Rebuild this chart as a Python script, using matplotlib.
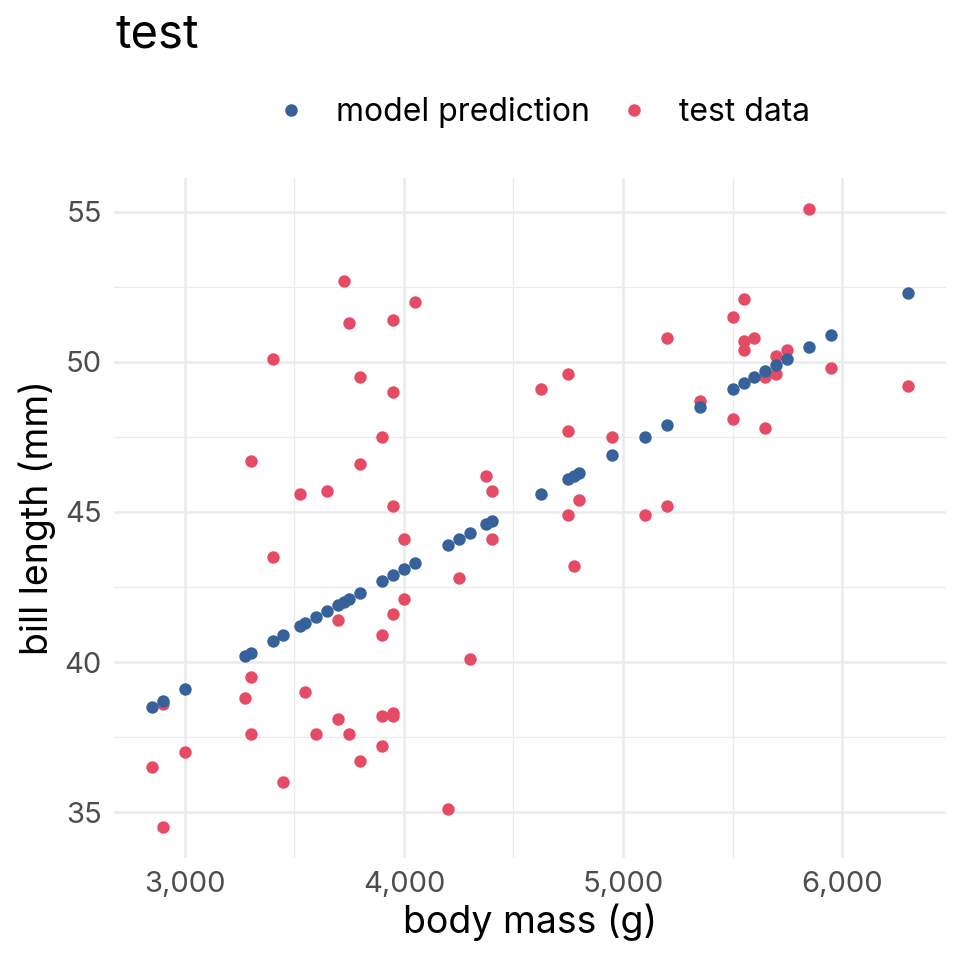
import matplotlib
matplotlib.use("Agg")
import matplotlib.pyplot as plt
from matplotlib.ticker import FuncFormatter, MultipleLocator
from matplotlib.lines import Line2D

# test data (body mass g, bill length mm)
test_mass = [2850, 2900, 2900, 3000, 3275, 3300, 3300, 3300, 3400, 3400,
             3450, 3525, 3550, 3600, 3650, 3700, 3700, 3725, 3750, 3750,
             3800, 3800, 3800, 3900, 3900, 3900, 3900, 3950, 3950, 3950,
             3950, 3950, 3950, 4000, 4000, 4050, 4200, 4250, 4300, 4375,
             4400, 4400, 4625, 4750, 4750, 4750, 4775, 4800, 4950, 5100,
             5200, 5200, 5350, 5500, 5500, 5550, 5550, 5550, 5600, 5650,
             5650, 5700, 5700, 5750, 5850, 5950, 6300]
test_bill = [36.5, 38.6, 34.5, 37.0, 38.8, 46.7, 39.5, 37.6, 50.1, 43.5,
             36.0, 45.6, 39.0, 37.6, 45.7, 41.4, 38.1, 52.7, 51.3, 37.6,
             49.5, 46.6, 36.7, 47.5, 40.9, 38.2, 37.2, 51.4, 49.0, 45.2,
             41.6, 38.3, 38.2, 44.1, 42.1, 52.0, 35.1, 42.8, 40.1, 46.2,
             45.7, 44.1, 49.1, 49.6, 47.7, 44.9, 43.2, 45.4, 47.5, 44.9,
             50.8, 45.2, 48.7, 51.5, 48.1, 52.1, 50.7, 50.4, 50.8, 49.5,
             47.8, 50.2, 49.6, 50.4, 55.1, 49.8, 49.2]

# model prediction
pred_mass = [2850, 2900, 3000, 3275, 3300, 3400, 3450, 3525, 3550, 3600,
             3650, 3700, 3725, 3750, 3800, 3900, 3950, 4000, 4050, 4200,
             4250, 4300, 4375, 4400, 4625, 4750, 4775, 4800, 4950, 5100,
             5200, 5350, 5500, 5550, 5600, 5650, 5700, 5750, 5850, 5950, 6300]
pred_bill = [38.5, 38.7, 39.1, 40.2, 40.3, 40.7, 40.9, 41.2, 41.3, 41.5,
             41.7, 41.9, 42.0, 42.1, 42.3, 42.7, 42.9, 43.1, 43.3, 43.9,
             44.1, 44.3, 44.6, 44.7, 45.6, 46.1, 46.2, 46.3, 46.9, 47.5,
             47.9, 48.5, 49.1, 49.3, 49.5, 49.7, 49.9, 50.1, 50.5, 50.9, 52.3]

labels = ["model prediction", "test data"]
BLUE = "#36619A"
RED = "#E64B65"

plt.rcParams['font.family'] = ['Inter', 'DejaVu Sans']

fig = plt.figure(figsize=(9.6, 9.6), dpi=100)
ax = fig.add_axes([0.119, 0.106, 0.866, 0.709])

ax.scatter(test_mass, test_bill, s=80, color=RED, linewidths=0, zorder=3)
ax.scatter(pred_mass, pred_bill, s=80, color=BLUE, linewidths=0, zorder=4)

ax.set_xlim(2677.5, 6472.5)
ax.set_ylim(33.47, 56.13)
ax.xaxis.set_major_locator(MultipleLocator(1000))
ax.xaxis.set_minor_locator(MultipleLocator(500))
ax.yaxis.set_major_locator(MultipleLocator(5))
ax.yaxis.set_minor_locator(MultipleLocator(2.5))
ax.xaxis.set_major_formatter(FuncFormatter(lambda v, p: f"{int(v):,}"))
ax.yaxis.set_major_formatter(FuncFormatter(lambda v, p: f"{int(v)}"))

ax.grid(True, which='major', color='#EBEBEB', linewidth=1.8, zorder=0)
ax.grid(True, which='minor', color='#EBEBEB', linewidth=0.9, zorder=0)
ax.set_axisbelow(True)
for s in ax.spines.values():
    s.set_visible(False)
ax.tick_params(which='both', length=0)
ax.tick_params(axis='x', pad=9, labelsize=21, labelcolor='#4D4D4D')
ax.tick_params(axis='y', pad=9, labelsize=21, labelcolor='#4D4D4D')

ax.set_xlabel("body mass (g)", fontsize=27, labelpad=4, color='black')
ax.set_ylabel("bill length (mm)", fontsize=27, labelpad=6, color='black')

fig.text(0.12, 0.95, "test", fontsize=34, ha='left', va='baseline')

handles = [Line2D([], [], marker='o', linestyle='', color=BLUE, markersize=8),
           Line2D([], [], marker='o', linestyle='', color=RED, markersize=8)]
fig.legend(handles, labels, loc='center', bbox_to_anchor=(0.565, 0.883), ncol=2,
           frameon=False, fontsize=23, handletextpad=0.9, columnspacing=0.9,
           handlelength=1.0)

fig.savefig("out.png", dpi=100)
